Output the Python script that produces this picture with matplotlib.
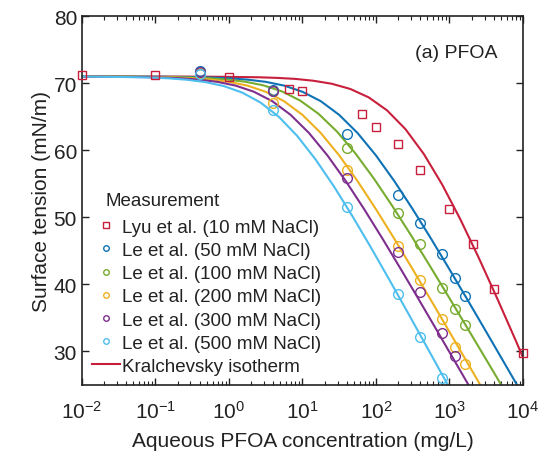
import numpy as np
import matplotlib
matplotlib.use('Agg')
import matplotlib.pyplot as plt
from matplotlib.lines import Line2D
from matplotlib.ticker import LogLocator, NullFormatter

plt.rcParams['font.family'] = ['Liberation Sans', 'DejaVu Sans']
plt.rcParams['mathtext.fontset'] = 'custom'
plt.rcParams['mathtext.rm'] = 'Liberation Sans'
plt.rcParams['mathtext.default'] = 'regular'

# measured points (mg/L, mN/m)
lyu_x = [0.01, 0.1, 1, 6.5, 10, 65, 100, 200, 400, 1000, 2100, 4000, 10000]
lyu_y = [71.2, 71.2, 70.9, 69.1, 68.9, 65.4, 63.4, 60.9, 57.0, 51.3, 46.1, 39.3, 29.7]

le_x = [0.4, 4, 40, 200, 400, 800, 1200, 1600]
le50_y = [71.8, 69.0, 62.5, 53.3, 49.1, 44.6, 41.0, 38.2]
le100_y = [71.4, 68.9, 60.4, 50.6, 46.1, 39.4, 36.4, 33.9]
le200_y = [71.5, 67.0, 57.0, 45.8, 40.7, 34.8, 30.6, 28.2]
le300_y = [71.7, 68.8, 55.8, 44.8, 38.8, 32.8, 29.4]
le500_y = [71.4, 66.0, 51.6, 38.5, 32.2, 26.1]

# isotherm curves (log10 of concentration, tension)
red_lx = [-2, -0.6, -0.1, 0.4, 0.65, 0.9, 1.15, 1.4, 1.65, 1.9, 2.15, 2.4, 2.65, 2.9, 3.15, 3.4, 3.65, 3.9, 4.15]
red_y = [71.0, 70.99, 70.96, 70.89, 70.80, 70.65, 70.37, 69.92, 69.15, 67.90, 65.96, 63.17, 59.46, 54.90, 49.65, 43.92, 37.88, 31.65, 25.30]
blue_lx = [-2, -1.5, -1.0, -0.5, -0.25, 0, 0.25, 0.5, 0.75, 1.0, 1.25, 1.5, 1.75, 2.0, 2.25, 2.5, 2.75, 3.0, 3.25, 3.5, 3.75, 4.0]
blue_y = [71.0, 70.99, 70.97, 70.92, 70.85, 70.74, 70.54, 70.21, 69.65, 68.73, 67.32, 65.28, 62.57, 59.23, 55.40, 51.21, 46.80, 42.24, 37.61, 32.92, 28.20, 23.47]
green_lx = [-2, -1.78, -1.28, -0.78, -0.53, -0.28, -0.03, 0.22, 0.47, 0.72, 0.97, 1.22, 1.47, 1.72, 1.97, 2.22, 2.47, 2.72, 2.97, 3.22, 3.47, 3.72]
green_y = [71.0, 70.99, 70.97, 70.92, 70.86, 70.75, 70.55, 70.23, 69.68, 68.79, 67.41, 65.43, 62.79, 59.54, 55.81, 51.73, 47.44, 43.00, 38.48, 33.92, 29.33, 24.72]
orange_lx = [-2, -1.5, -1.0, -0.75, -0.5, -0.25, 0.0, 0.25, 0.5, 0.75, 1.0, 1.25, 1.5, 1.75, 2.0, 2.25, 2.5, 2.75, 3.0, 3.25, 3.5]
orange_y = [71.0, 70.97, 70.92, 70.85, 70.74, 70.54, 70.21, 69.65, 68.73, 67.32, 65.28, 62.57, 59.23, 55.40, 51.21, 46.80, 42.24, 37.61, 32.92, 28.20, 23.47]
purple_lx = [-2, -1.66, -1.16, -0.91, -0.66, -0.41, -0.16, 0.09, 0.34, 0.59, 0.84, 1.09, 1.34, 1.59, 1.84, 2.09, 2.34, 2.59, 2.84, 3.09, 3.34]
purple_y = [71.0, 70.97, 70.92, 70.85, 70.74, 70.54, 70.21, 69.65, 68.73, 67.32, 65.28, 62.57, 59.23, 55.40, 51.21, 46.80, 42.24, 37.61, 32.92, 28.20, 23.47]
cyan_lx = [-2, -1.82, -1.32, -1.07, -0.82, -0.57, -0.32, -0.07, 0.18, 0.43, 0.68, 0.93, 1.18, 1.43, 1.68, 1.93, 2.18, 2.43, 2.68, 2.93, 3.18]
cyan_y = [71.0, 70.97, 70.91, 70.85, 70.73, 70.52, 70.17, 69.58, 68.61, 67.12, 64.98, 62.13, 58.61, 54.58, 50.17, 45.53, 40.73, 35.85, 30.91, 25.95, 20.97]

labels = ['Lyu et al. (10 mM NaCl)', 'Le et al. (50 mM NaCl)', 'Le et al. (100 mM NaCl)',
          'Le et al. (200 mM NaCl)', 'Le et al. (300 mM NaCl)', 'Le et al. (500 mM NaCl)']
colors = ['#C8203C', '#0E72B5', '#77AC30', '#EDB120', '#7E2F8E', '#4DBEEE']

fig = plt.figure(figsize=(5.57, 4.52), dpi=100)
ax = fig.add_axes([0.147, 0.146, 0.792, 0.816])

curves = [(red_lx, red_y), (blue_lx, blue_y), (green_lx, green_y),
          (orange_lx, orange_y), (purple_lx, purple_y), (cyan_lx, cyan_y)]
for (lx, y), c in zip(curves, colors):
    ax.plot(10 ** np.array(lx), y, '-', color=c, lw=1.5, zorder=2)

ax.plot(lyu_x, lyu_y, 's', ms=5.5, mfc='none', mec=colors[0], mew=1.0, clip_on=False, zorder=3)
le_sets = [le50_y, le100_y, le200_y, le300_y, le500_y]
for y, c in zip(le_sets, colors[1:]):
    ax.plot(le_x[:len(y)], y, 'o', ms=7, mfc='none', mec=c, mew=1.0, zorder=3)

ax.set_xscale('log')
ax.set_xlim(1e-2, 1e4)
ax.set_ylim(25, 80)
ax.set_yticks([30, 40, 50, 60, 70, 80])
ax.xaxis.set_major_locator(LogLocator(base=10, numticks=10))
ax.xaxis.set_minor_locator(LogLocator(base=10, subs=np.arange(2, 10), numticks=20))
ax.xaxis.set_minor_formatter(NullFormatter())
ax.tick_params(which='both', direction='in', top=True, right=True, labelsize=15, colors='#222222')
ax.tick_params(which='major', length=5, width=1)
ax.tick_params(which='minor', length=3, width=0.8)
ax.tick_params(axis='x', pad=11)
for s in ax.spines.values():
    s.set_linewidth(1.2)
    s.set_color('#222222')

ax.set_xlabel('Aqueous PFOA concentration (mg/L)', fontsize=15, color='#222222', labelpad=6)
ax.set_ylabel('Surface tension (mN/m)', fontsize=15, color='#222222', labelpad=2)
ax.text(0.943, 0.902, '(a) PFOA', transform=ax.transAxes, ha='right', va='center', fontsize=14, color='#222222')

handles = [Line2D([], [], ls='none', marker='s', ms=4, mfc='none', mec=colors[0], mew=1.0)]
handles += [Line2D([], [], ls='none', marker='o', ms=4, mfc='none', mec=c, mew=1.0) for c in colors[1:]]
handles.append(Line2D([], [], color=colors[0], lw=1.5))
leg = ax.legend(handles, labels + ['Kralchevsky isotherm'], loc='lower left', bbox_to_anchor=(0.022, 0.027),
                frameon=False, fontsize=13.5, handlelength=1.5, handletextpad=0.12,
                labelspacing=0.325, borderpad=0, borderaxespad=0)
for t in leg.get_texts():
    t.set_color('#222222')
ax.text(0.054, 0.500, 'Measurement', transform=ax.transAxes, ha='left', va='center', fontsize=13.5, color='#222222')

fig.savefig('out.png', dpi=100)
